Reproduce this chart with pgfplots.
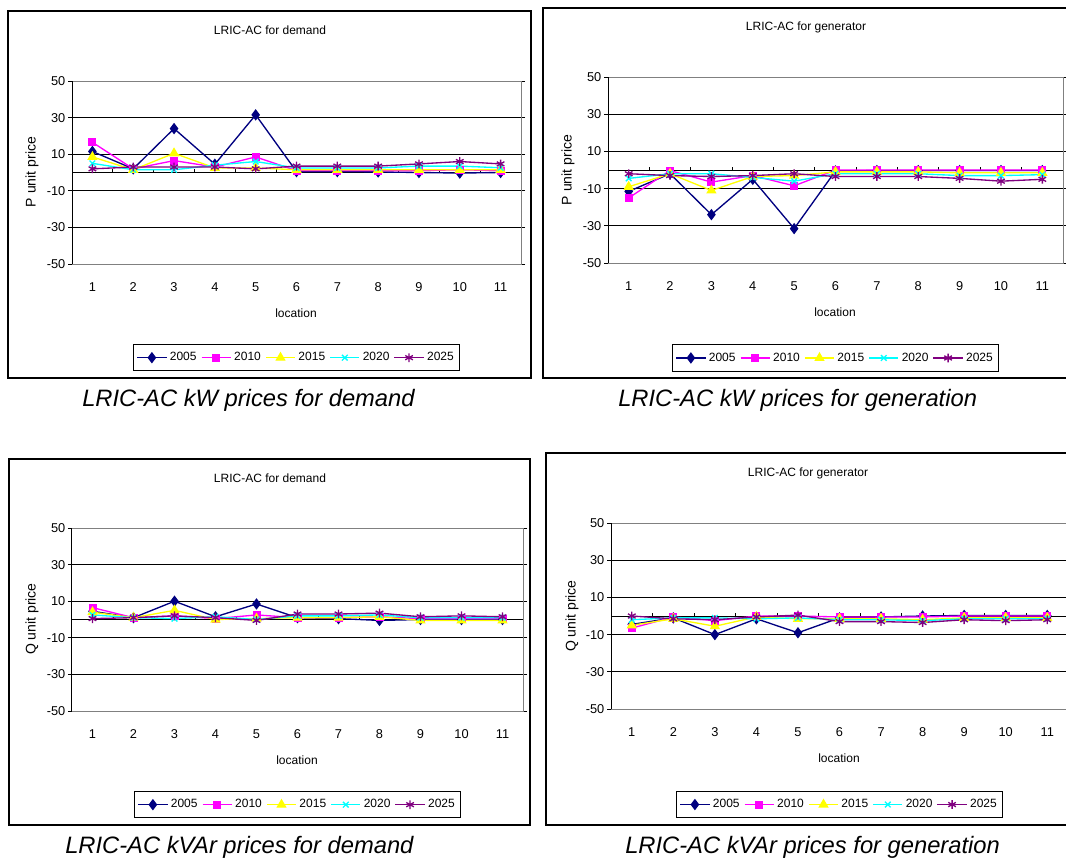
\documentclass[border=0pt]{standalone}
\usepackage{pgfplots}
\usepackage{pgfplotstable}
\pgfplotsset{compat=1.18}
\usepackage{fontspec}
\setmainfont{Liberation Sans}

\definecolor{xnavy}{RGB}{0,0,128}
\definecolor{xmag}{RGB}{255,0,255}
\definecolor{xyel}{RGB}{255,255,0}
\definecolor{xcyan}{RGB}{0,255,255}
\definecolor{xpurp}{RGB}{128,0,128}
\definecolor{xborder}{RGB}{128,128,128}

% P unit price, demand
\pgfplotstableread{
loc y05  y10  y15  y20 y25
1   11.5 16.5 8.5  5   2
2   2    2    1.5  1.5 3
3   24   6.5  10.5 1.5 3
4   4.5  3    2.5  4   3
5   31.5 8.5  2.5  6   2
6   0.5  1    1.5  2.5 3.5
7   0.5  1    1.5  2.5 3.5
8   0.3  1    1.5  2.5 3.5
9   0    1    1.5  3.5 4.7
10  -0.3 1.5  1.5  3.5 6
11  0    1    1.5  2.6 4.7
}\tabPD

% P unit price, generator
\pgfplotstableread{
loc y05   y10  y15  y20  y25
1   -11.5 -15  -9   -4.5 -2
2   -2    -0.3 -2   -2   -3
3   -24   -6.5 -11  -2   -3.5
4   -5    -3   -3.5 -4   -3
5   -31.5 -8.5 -3   -6   -2
6   -0.5  0    -1   -2   -3.5
7   -0.3  0    -1   -2   -3.5
8   -0.3  0    -1   -2   -3.5
9   -0.3  0    -1.5 -3   -4.5
10  -0.3  0    -1.5 -3   -6
11  -0.3  0    -1.5 -2.5 -5
}\tabPG

% Q unit price, demand
\pgfplotstableread{
loc y05  y10 y15  y20 y25
1   4.5  6.5 4    2.5 0.5
2   1    1   1    1   1
3   10   2   5    0.5 2
4   1.5  0.5 0    1.5 1
5   8.5  2.5 0.5  0   -0.5
6   1    1   1    2   3
7   0.5  1   1    2   3
8   -0.5 1.5 1.5  2.5 3.5
9   0    0.5 -0.5 1   1.5
10  0    0.5 -0.5 1   2
11  0    0.5 -0.5 1   1.5
}\tabQD

% Q unit price, generator
\pgfplotstableread{
loc y05  y10  y15  y20  y25
1   -4.5 -6.5 -5   -2   0
2   -1   -0.5 -1.5 -1   -1.5
3   -10  -2.5 -5.5 -1   -2
4   -1.5 0    -0.5 -1.5 -0.5
5   -9   0    -1.5 -1   0.5
6   -1   -0.5 -1.5 -2   -3
7   -0.5 -0.5 -1.5 -2   -3
8   0    -0.5 -2   -2.5 -3.5
9   0.3  0    -1   -1.5 -2
10  0.3  0    -1   -1.5 -2.5
11  0.3  0    -1   -1.5 -2
}\tabQG

\pgfplotsset{
  yr05/.style={xnavy, line width=1pt, mark=diamond*, mark size=3.5pt, mark options={solid, fill=xnavy}},
  yr10/.style={xmag, line width=1pt, mark=square*, mark size=2.5pt, mark options={solid, fill=xmag}},
  yr15/.style={xyel, line width=1pt, mark=triangle*, mark size=3.5pt, mark options={solid, fill=xyel}},
  yr20/.style={xcyan, line width=1pt, mark=x, mark size=3pt, mark options={solid}},
  yr25/.style={xpurp, line width=1pt, mark=asterisk, mark size=3.3pt, mark options={solid}},
  lricaxis/.style={
    scale only axis, anchor=south west,
    xmin=0.5, xmax=11.5, ymin=-50, ymax=50,
    xtick={1,...,11}, ytick={-50,-30,-10,10,30,50},
    ymajorgrids, major grid style={black, line width=0.75pt},
    axis line style={draw=none},
    xtick style={draw=none},
    ytick style={black, line width=0.75pt},
    tick align=outside, major tick length=3pt,
    /pgf/number format/assume math mode=true,
    ticklabel style={font=\fontsize{9.6}{11}\selectfont},
    xticklabel style={anchor=center, yshift=-14pt},
    yticklabel style={inner sep=1.8pt},
    legend columns=5,
    legend style={at={(0.5,-0.437)}, anchor=north, draw=black, line width=0.75pt,
      fill=white, font=\fontsize{9}{10}\selectfont, inner xsep=2.5pt, inner ysep=4pt,
      nodes={inner sep=2pt},
      /tikz/every even column/.append style={column sep=1.2pt}},
    legend image code/.code={\draw[mark repeat=2,mark phase=2,##1]
      plot coordinates {(0pt,0pt) (11pt,0pt) (22pt,0pt)};},
    clip=false,
  },
}

% zero line of the category axis, with its ticks between locations
\newcommand\zeroaxis{%
  \draw[black, line width=0.75pt] (axis cs:0.5,0) -- (axis cs:11.5,0);
  \draw[black, line width=0.75pt]
    (axis cs:1.5,0) -- (axis cs:1.5,1.7) (axis cs:2.5,0) -- (axis cs:2.5,1.7)
    (axis cs:3.5,0) -- (axis cs:3.5,1.7) (axis cs:4.5,0) -- (axis cs:4.5,1.7)
    (axis cs:5.5,0) -- (axis cs:5.5,1.7) (axis cs:6.5,0) -- (axis cs:6.5,1.7)
    (axis cs:7.5,0) -- (axis cs:7.5,1.7) (axis cs:8.5,0) -- (axis cs:8.5,1.7)
    (axis cs:9.5,0) -- (axis cs:9.5,1.7) (axis cs:10.5,0) -- (axis cs:10.5,1.7);
}
% plot-area border: grey box, black value axis
\newcommand\plotborder{%
  \draw[xborder, line width=0.75pt] (axis cs:0.5,50) -- (axis cs:11.5,50)
    -- (axis cs:11.5,-50) -- (axis cs:0.5,-50);
  \draw[black, line width=0.75pt] (axis cs:0.5,-50) -- (axis cs:0.5,50);
}
\newcommand\allyears[1]{%
  \addplot[yr05] table[x=loc, y=y05] {#1};
  \addplot[yr10] table[x=loc, y=y10] {#1};
  \addplot[yr15] table[x=loc, y=y15] {#1};
  \addplot[yr20] table[x=loc, y=y20] {#1};
  \addplot[yr25] table[x=loc, y=y25] {#1};
  \legend{2005,2010,2015,2020,2025}
}

\begin{document}
\begin{tikzpicture}
\useasboundingbox (0pt,0pt) rectangle (799.5pt,-643.5pt);
\begin{scope}[x=0.75pt, y=-0.75pt]
  \fill[white] (0,0) rectangle (1066,858);
  % panel frames
  \draw[black, line width=1.1pt] (8,11) rectangle (531,378);
  \draw[black, line width=1.1pt] (543,8) rectangle (1072,378);
  \draw[black, line width=1.1pt] (9,459) rectangle (530,825);
  \draw[black, line width=1.1pt] (546,453) rectangle (1072,825);
  % anchors of the plot areas
  \coordinate (pa) at (72,264);
  \coordinate (pb) at (608,263);
  \coordinate (pc) at (72,711);
  \coordinate (pd) at (611,709);
  % chart titles
  \node[font=\fontsize{9}{11}\selectfont] at (270,30) {LRIC-AC for demand};
  \node[font=\fontsize{9}{11}\selectfont] at (806,27) {LRIC-AC for generator};
  \node[font=\fontsize{9}{11}\selectfont] at (270,478) {LRIC-AC for demand};
  \node[font=\fontsize{9}{11}\selectfont] at (808,473) {LRIC-AC for generator};
  % value axis titles
  \node[font=\fontsize{10.5}{12}\selectfont, rotate=90] at (32,172) {P unit price};
  \node[font=\fontsize{10.5}{12}\selectfont, rotate=90] at (568,170) {P unit price};
  \node[font=\fontsize{10.5}{12}\selectfont, rotate=90] at (32,619) {Q unit price};
  \node[font=\fontsize{10.5}{12}\selectfont, rotate=90] at (572,616) {Q unit price};
  % category axis titles
  \node[font=\fontsize{9}{11}\selectfont] at (296,313) {location};
  \node[font=\fontsize{9}{11}\selectfont] at (835,312) {location};
  \node[font=\fontsize{9}{11}\selectfont] at (297,760) {location};
  \node[font=\fontsize{9}{11}\selectfont] at (839,758) {location};
  % captions
  \begin{scope}[every node/.style={font=\fontsize{17.8}{20}\selectfont\itshape, anchor=base west, inner sep=0pt}]
    \node at (82,406) {LRIC-AC kW prices for demand};
    \node at (618,406) {LRIC-AC kW prices for generation};
    \node at (65,853) {LRIC-AC kVAr prices for demand};
    \node at (625,853) {LRIC-AC kVAr prices for generation};
  \end{scope}
\end{scope}

\begin{axis}[lricaxis, at={(pa)}, width=336.75pt, height=137.25pt]
  \zeroaxis
  \allyears{\tabPD}
  \plotborder
\end{axis}

\begin{axis}[lricaxis, at={(pb)}, width=341.25pt, height=139.5pt]
  \zeroaxis
  \allyears{\tabPG}
  \plotborder
\end{axis}

\begin{axis}[lricaxis, at={(pc)}, width=338.25pt, height=137.25pt]
  \zeroaxis
  \allyears{\tabQD}
  \plotborder
\end{axis}

\begin{axis}[lricaxis, at={(pd)}, width=342.75pt, height=139.5pt,
  legend style={at={(0.5,-0.44)}}]
  \zeroaxis
  \allyears{\tabQG}
  \plotborder
\end{axis}
\end{tikzpicture}
\end{document}
